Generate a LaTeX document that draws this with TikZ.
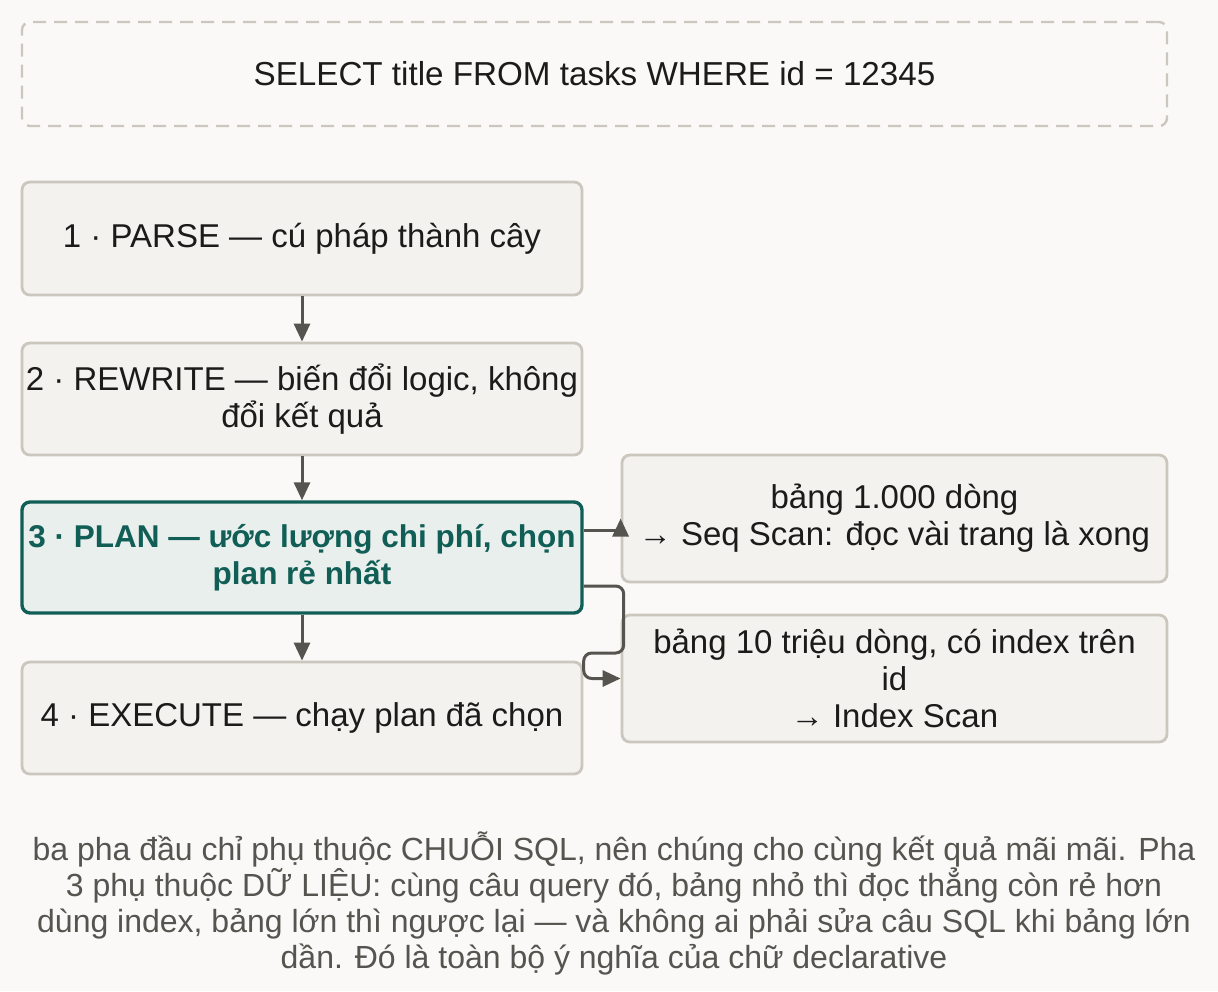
\documentclass[tikz,border=0pt]{standalone}
\usepackage{fontspec}
\setmainfont{Liberation Sans}
\usetikzlibrary{arrows.meta,positioning}
\tikzset{
  stage/.style={draw=cbd,fill=cfb,line width=2.8pt,rounded corners=8pt,minimum width=560pt,align=center,text=ctx,font=\fontsize{33}{37}\selectfont},
  pick/.style={stage,draw=cpl,fill=cfp,line width=3.4pt,text=cpl,font=\fontsize{31.5}{37}\selectfont\bfseries},
  scan/.style={stage,minimum width=545pt,minimum height=127pt},
  flow/.style={draw=car,line width=3pt,-{Triangle[length=18pt,width=16pt]}},
}
\begin{document}
\begin{tikzpicture}[x=1pt,y=-1pt]
%
\definecolor{cbg}{HTML}{FAF9F7}
\definecolor{cbd}{HTML}{CBC7BE}
\definecolor{cfb}{HTML}{F3F2EF}
\definecolor{ctx}{HTML}{1C1B19}
\definecolor{cpl}{HTML}{115E57}
\definecolor{cfp}{HTML}{E8EFEC}
\definecolor{car}{HTML}{55544F}
\definecolor{ccap}{HTML}{56544F}
%
\fill[cbg] (0,0) rectangle (1218,991);
\useasboundingbox (0,0) rectangle (1218,991);
%
\node[draw=cbd,line width=2.4pt,dash pattern=on 13pt off 8pt,rounded corners=8pt,minimum width=1145pt,minimum height=104pt,text=ctx,font=\fontsize{33.2}{37}\selectfont] (query) at (594.5,74) {SELECT title FROM tasks WHERE id = 12345};
%
\node[stage,minimum height=113pt] (parse) at (302,238.5) {1 · PARSE — cú pháp thành cây};
\node[stage,minimum height=112pt] (rewrite) at (302,399) {2 · REWRITE — biến đổi logic, không\\đổi kết quả};
\node[pick,minimum height=111pt] (plan) at (302,557.5) {3 · PLAN — ước lượng chi phí, chọn\\plan rẻ nhất};
\node[stage,minimum height=112pt] (execute) at (302,718) {4 · EXECUTE — chạy plan đã chọn};
%
\node[scan] (seq) at (894.5,518.5) {bảng 1.000 dòng\\→ Seq Scan: đọc vài trang là xong};
\node[scan] (idx) at (894.5,678.5) {bảng 10 triệu dòng, có index trên\\id\\→ Index Scan};
%
\draw[flow] (parse) -- (rewrite);
\draw[flow] (rewrite) -- (plan);
\draw[flow] (plan) -- (execute);
\draw[flow] ([yshift=27.5pt]plan.east) -| (seq.west);
\draw[flow,rounded corners=8pt] ([yshift=-28.5pt]plan.east) -- ++(40,0) -- ++(0,67) -- ++(-40,0) |- (idx.west);
%
\node[align=center,text=ccap,font=\fontsize{32}{36}\selectfont] (note) at (614,903) {ba pha đầu chỉ phụ thuộc CHUỖI SQL, nên chúng cho cùng kết quả mãi mãi. Pha\\3 phụ thuộc DỮ LIỆU: cùng câu query đó, bảng nhỏ thì đọc thẳng còn rẻ hơn\\dùng index, bảng lớn thì ngược lại — và không ai phải sửa câu SQL khi bảng lớn\\dần. Đó là toàn bộ ý nghĩa của chữ declarative};
%
\end{tikzpicture}
\end{document}
